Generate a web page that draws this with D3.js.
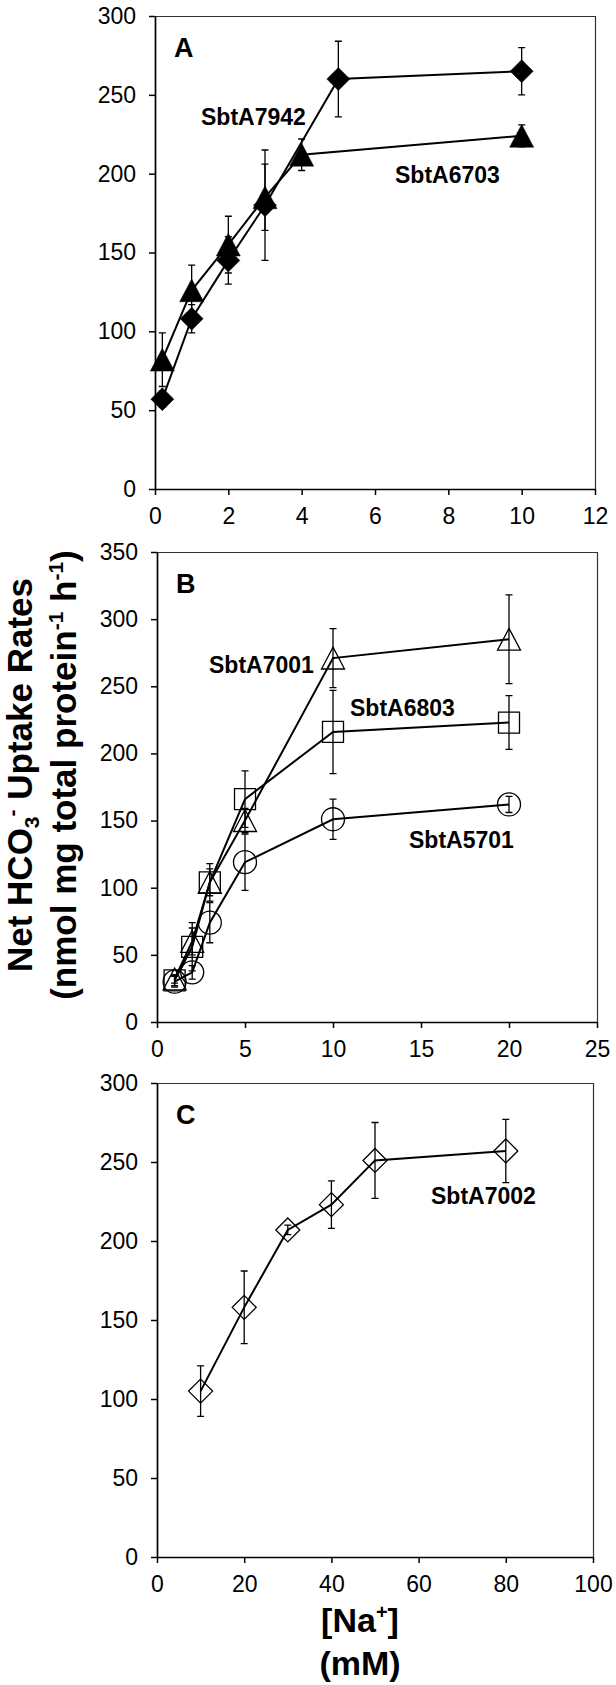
<!DOCTYPE html>
<html>
<head>
<meta charset="utf-8">
<script src="https://cdn.jsdelivr.net/npm/d3@7"></script>
<style>
  body { margin: 0; background: #fff; }
  svg { display: block; }
</style>
</head>
<body>
<svg id="chart" width="616" height="1685"></svg>
<script>
// panel A
const naA7942 = [0.2, 1, 2, 3, 5, 10];
const rateA7942 = [57, 108, 145, 180, 260, 265];
const errA7942 = [5, 9, 15, 35, 24, 15];
const naA6703 = [0.2, 1, 2, 3, 4, 10];
const rateA6703 = [82, 126, 155, 185, 212, 224];
const errA6703 = [17, 16, 18, 21, 10, 7];
const xTicksA = [0, 2, 4, 6, 8, 10, 12];
const yTicksA = [0, 50, 100, 150, 200, 250, 300];

// panel B
const naB = [1, 2, 3, 5, 10, 20];
const rateB7001 = [32, 60, 104, 150, 271, 285];
const errB7001 = [3, 10, 10, 9, 22, 33];
const rateB6803 = [31, 56, 104, 166, 216, 223];
const errB6803 = [4, 18, 14, 21, 31, 20];
const rateB5701 = [30, 37, 74, 119, 151, 162];
const errB5701 = [4, 5, 15, 21, 15, 6];
const xTicksB = [0, 5, 10, 15, 20, 25];
const yTicksB = [0, 50, 100, 150, 200, 250, 300, 350];

// panel C
const naC = [10, 20, 30, 40, 50, 80];
const rateC7002 = [105, 158, 207, 223, 251, 257];
const errC7002 = [16, 23, 3, 15, 24, 20];
const xTicksC = [0, 20, 40, 60, 80, 100];
const yTicksC = [0, 50, 100, 150, 200, 250, 300];

const FONT = "'Liberation Sans', Arial, Helvetica, sans-serif";
const svg = d3.select("#chart");

// excel style markers, centred on their bounding box
const diamond = {
  draw(ctx, size) {
    const r = Math.sqrt(size) / 2;
    ctx.moveTo(0, -r);
    ctx.lineTo(r, 0);
    ctx.lineTo(0, r);
    ctx.lineTo(-r, 0);
    ctx.closePath();
  }
};
const triangle = {
  draw(ctx, size) {
    const w = Math.sqrt(size);
    const h = w * 0.95;
    ctx.moveTo(0, -h / 2);
    ctx.lineTo(w / 2, h / 2);
    ctx.lineTo(-w / 2, h / 2);
    ctx.closePath();
  }
};

function drawPanel(p) {
  const x = d3.scaleLinear().domain(p.xDomain).range([p.left, p.right]);
  const y = d3.scaleLinear().domain(p.yDomain).range([p.bottom, p.top]);
  const g = svg.append("g");

  // thin frame on top and right
  g.append("path")
    .attr("d", `M${p.left},${p.top + 0.5}H${p.right + 0.5}V${p.bottom}`)
    .attr("fill", "none")
    .attr("stroke", "#333")
    .attr("stroke-width", 1.2);

  const xAxis = g
    .append("g")
    .attr("transform", `translate(0,${p.bottom})`)
    .call(d3.axisBottom(x).tickValues(p.xTicks).tickSize(6).tickSizeOuter(0).tickPadding(13));
  const yAxis = g
    .append("g")
    .attr("transform", `translate(${p.left},0)`)
    .call(d3.axisLeft(y).tickValues(p.yTicks).tickSize(6).tickSizeOuter(0).tickPadding(13));

  [xAxis, yAxis].forEach((a) => {
    a.attr("font-size", 23).attr("font-family", FONT);
    a.select(".domain").attr("stroke", "#000").attr("stroke-width", 1.7);
    a.selectAll(".tick line").attr("stroke", "#000").attr("stroke-width", 1.5);
    a.selectAll(".tick text").attr("fill", "#000");
  });

  // series: line, error bars, markers
  p.series.forEach((s) => {
    const pts = s.x.map((xv, i) => ({ x: xv, v: s.v[i], e: s.e[i] }));

    g.append("path")
      .datum(pts)
      .attr("fill", "none")
      .attr("stroke", "#000")
      .attr("stroke-width", 2)
      .attr("d", d3.line().x((d) => x(d.x)).y((d) => y(d.v)));

    g.append("g")
      .selectAll("path")
      .data(pts)
      .join("path")
      .attr("fill", "none")
      .attr("stroke", "#000")
      .attr("stroke-width", 1.3)
      .attr("d", (d) => {
        const cx = x(d.x);
        const y0 = y(d.v - d.e);
        const y1 = y(d.v + d.e);
        return `M${cx},${y0}V${y1}M${cx - 3.5},${y0}h7M${cx - 3.5},${y1}h7`;
      });

    g.append("g")
      .selectAll("path")
      .data(pts)
      .join("path")
      .attr("transform", (d) => `translate(${x(d.x)},${y(d.v)})`)
      .attr("d", d3.symbol(s.shape, s.size))
      .attr("fill", s.filled ? "#000" : "none")
      .attr("stroke", "#000")
      .attr("stroke-width", s.filled ? 0.5 : 1.3);
  });

  // panel letter
  g.append("text")
    .attr("x", p.left + 19)
    .attr("y", p.top + 41)
    .attr("font-family", FONT)
    .attr("font-weight", "bold")
    .attr("font-size", 27)
    .text(p.letter);

  // series names
  p.labels.forEach((l) => {
    g.append("text")
      .attr("x", p.left + l.dx)
      .attr("y", p.top + l.dy)
      .attr("font-family", FONT)
      .attr("font-weight", "bold")
      .attr("font-size", 23)
      .text(l.text);
  });
}

drawPanel({
  letter: "A",
  left: 155, right: 595, top: 16, bottom: 489,
  xDomain: [0, 12], yDomain: [0, 300],
  xTicks: xTicksA, yTicks: yTicksA,
  series: [
    { x: naA7942, v: rateA7942, e: errA7942, shape: diamond, size: 23 * 23, filled: true },
    { x: naA6703, v: rateA6703, e: errA6703, shape: triangle, size: 24 * 24, filled: true }
  ],
  labels: [
    { text: "SbtA7942", dx: 46, dy: 109 },
    { text: "SbtA6703", dx: 240, dy: 167 }
  ]
});

drawPanel({
  letter: "B",
  left: 157, right: 597, top: 552, bottom: 1022,
  xDomain: [0, 25], yDomain: [0, 350],
  xTicks: xTicksB, yTicks: yTicksB,
  series: [
    { x: naB, v: rateB7001, e: errB7001, shape: triangle, size: 23 * 23, filled: false },
    { x: naB, v: rateB6803, e: errB6803, shape: d3.symbolSquare, size: 21 * 21, filled: false },
    { x: naB, v: rateB5701, e: errB5701, shape: d3.symbolCircle, size: Math.PI * 11.5 * 11.5, filled: false }
  ],
  labels: [
    { text: "SbtA7001", dx: 52, dy: 121 },
    { text: "SbtA6803", dx: 193, dy: 164 },
    { text: "SbtA5701", dx: 252, dy: 296 }
  ]
});

drawPanel({
  letter: "C",
  left: 157, right: 593, top: 1083, bottom: 1557,
  xDomain: [0, 100], yDomain: [0, 300],
  xTicks: xTicksC, yTicks: yTicksC,
  series: [
    { x: naC, v: rateC7002, e: errC7002, shape: diamond, size: 24 * 24, filled: false }
  ],
  labels: [
    { text: "SbtA7002", dx: 274, dy: 121 }
  ]
});

// shared y axis title
const yTitle = svg
  .append("g")
  .attr("transform", "translate(32,775) rotate(-90)")
  .attr("font-family", FONT)
  .attr("font-weight", "bold")
  .attr("font-size", 35)
  .attr("text-anchor", "middle");

const t1 = yTitle.append("text");
t1.append("tspan").text("Net HCO");
t1.append("tspan").attr("font-size", 21).attr("dy", 7).text("3");
t1.append("tspan").attr("font-size", 21).attr("dy", -20).text("-");
t1.append("tspan").attr("dy", 13).text(" Uptake Rates");

const t2 = yTitle.append("text").attr("y", 44);
t2.append("tspan").text("(nmol mg total protein");
t2.append("tspan").attr("font-size", 21).attr("dy", -13).text("-1");
t2.append("tspan").attr("dy", 13).text(" h");
t2.append("tspan").attr("font-size", 21).attr("dy", -13).text("-1");
t2.append("tspan").attr("dy", 13).text(")");

// x axis title under panel C
const xTitle = svg
  .append("g")
  .attr("font-family", FONT)
  .attr("font-weight", "bold")
  .attr("font-size", 34)
  .attr("text-anchor", "middle");

const x1 = xTitle.append("text").attr("x", 360).attr("y", 1632);
x1.append("tspan").text("[Na");
x1.append("tspan").attr("font-size", 20).attr("dy", -13).text("+");
x1.append("tspan").attr("dy", 13).text("]");

xTitle.append("text").attr("x", 360).attr("y", 1675).text("(mM)");
</script>
</body>
</html>
